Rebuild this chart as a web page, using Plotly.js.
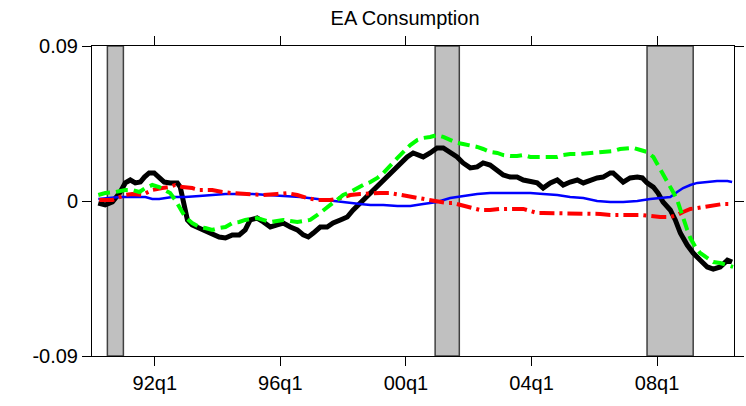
<!DOCTYPE html>
<html>
<head>
<meta charset="utf-8">
<script src="https://cdn.plot.ly/plotly-3.0.1.min.js"></script>
<style>html,body{margin:0;padding:0;background:#fff;}#chart{width:746px;height:406px;}</style>
</head>
<body>
<div id="chart"></div>
<script>
// x values are decimal years (q1 = year.00)
var blackX = [1990.20,1990.42,1990.65,1990.90,1991.06,1991.22,1991.38,1991.54,1991.67,1991.82,1991.98,1992.14,1992.30,1992.49,1992.72,1992.81,1992.88,1992.94,1993.04,1993.19,1993.42,1993.61,1993.83,1994.05,1994.25,1994.47,1994.69,1994.88,1995.04,1995.26,1995.46,1995.68,1995.90,1996.09,1996.32,1996.54,1996.73,1996.89,1997.05,1997.27,1997.49,1997.68,1997.91,1998.13,1998.32,1998.54,1998.77,1998.96,1999.18,1999.40,1999.60,1999.82,2000.04,2000.23,2000.36,2000.55,2000.77,2000.99,2001.19,2001.41,2001.63,2001.82,2002.05,2002.27,2002.46,2002.68,2002.91,2003.10,2003.32,2003.54,2003.74,2003.96,2004.18,2004.37,2004.60,2004.82,2005.01,2005.23,2005.46,2005.65,2005.87,2006.09,2006.28,2006.51,2006.60,2006.76,2006.92,2007.14,2007.37,2007.53,2007.68,2007.88,2008.03,2008.19,2008.42,2008.58,2008.74,2008.96,2009.15,2009.37,2009.60,2009.79,2010.01,2010.24,2010.39];
var blackY = [-0.0012,-0.0023,-0.0006,0.0052,0.0105,0.0122,0.0105,0.0110,0.0139,0.0163,0.0163,0.0139,0.0110,0.0105,0.0105,0.0081,0.0023,-0.0052,-0.0110,-0.0139,-0.0157,-0.0168,-0.0186,-0.0209,-0.0215,-0.0197,-0.0197,-0.0168,-0.0110,-0.0099,-0.0122,-0.0151,-0.0139,-0.0128,-0.0151,-0.0168,-0.0197,-0.0209,-0.0186,-0.0151,-0.0151,-0.0128,-0.0110,-0.0093,-0.0052,-0.0012,0.0023,0.0064,0.0105,0.0139,0.0180,0.0221,0.0256,0.0279,0.0267,0.0256,0.0279,0.0308,0.0308,0.0285,0.0256,0.0221,0.0192,0.0198,0.0221,0.0209,0.0180,0.0151,0.0139,0.0139,0.0122,0.0110,0.0105,0.0075,0.0105,0.0122,0.0093,0.0110,0.0122,0.0105,0.0122,0.0134,0.0139,0.0163,0.0163,0.0139,0.0110,0.0134,0.0139,0.0134,0.0105,0.0081,0.0046,-0.0006,-0.0052,-0.0110,-0.0186,-0.0256,-0.0302,-0.0343,-0.0383,-0.0395,-0.0383,-0.0343,-0.0354];

var greenX = [1990.20,1990.42,1990.74,1991.06,1991.28,1991.51,1991.70,1991.92,1992.14,1992.30,1992.49,1992.65,1992.81,1992.97,1993.19,1993.42,1993.61,1993.83,1994.05,1994.25,1994.47,1994.69,1994.88,1995.11,1995.26,1995.68,1996.09,1996.54,1996.95,1997.18,1997.37,1997.59,1997.81,1998.00,1998.23,1998.45,1998.64,1998.87,1999.09,1999.28,1999.50,1999.73,1999.92,2000.14,2000.36,2000.55,2000.77,2000.99,2001.19,2001.41,2001.63,2001.82,2002.05,2002.27,2002.46,2002.68,2002.91,2003.10,2003.32,2003.54,2003.74,2003.96,2004.18,2004.37,2004.60,2004.82,2005.01,2005.23,2005.55,2005.87,2006.19,2006.41,2006.60,2006.82,2007.05,2007.24,2007.47,2007.68,2007.88,2008.03,2008.19,2008.35,2008.51,2008.64,2008.74,2008.83,2008.96,2009.06,2009.22,2009.37,2009.60,2009.79,2010.01,2010.24,2010.42];
var greenY = [0.0035,0.0046,0.0052,0.0064,0.0064,0.0052,0.0075,0.0093,0.0081,0.0064,0.0046,0.0006,-0.0041,-0.0093,-0.0128,-0.0151,-0.0157,-0.0168,-0.0157,-0.0151,-0.0128,-0.0122,-0.0110,-0.0105,-0.0099,-0.0122,-0.0110,-0.0122,-0.0110,-0.0081,-0.0052,-0.0023,0.0006,0.0035,0.0052,0.0075,0.0093,0.0110,0.0134,0.0163,0.0209,0.0250,0.0285,0.0325,0.0354,0.0366,0.0372,0.0383,0.0372,0.0354,0.0337,0.0331,0.0325,0.0314,0.0302,0.0285,0.0279,0.0267,0.0261,0.0261,0.0267,0.0256,0.0256,0.0256,0.0256,0.0256,0.0267,0.0273,0.0273,0.0279,0.0285,0.0285,0.0290,0.0302,0.0308,0.0308,0.0296,0.0285,0.0256,0.0209,0.0163,0.0110,0.0052,0.0006,-0.0052,-0.0110,-0.0168,-0.0215,-0.0267,-0.0302,-0.0331,-0.0354,-0.0360,-0.0372,-0.0383];

var redX = [1990.23,1990.42,1990.65,1991.06,1991.28,1991.60,1991.92,1992.24,1992.46,1992.65,1992.88,1993.19,1993.42,1993.83,1994.15,1994.47,1994.79,1995.11,1995.46,1995.90,1996.22,1996.54,1996.86,1997.18,1997.59,1997.91,1998.23,1998.54,1998.87,1999.18,1999.50,1999.82,2000.14,2000.45,2000.77,2001.09,2001.31,2001.51,2001.73,2001.95,2002.14,2002.36,2002.68,2003.00,2003.32,2003.74,2003.96,2004.18,2004.37,2004.69,2005.01,2005.33,2005.55,2005.87,2006.19,2006.51,2006.82,2007.14,2007.47,2007.78,2008.10,2008.42,2008.64,2008.83,2009.06,2009.28,2009.47,2009.69,2009.91,2010.10,2010.26,2010.39];
var redY = [0.0006,0.0006,0.0006,0.0035,0.0041,0.0035,0.0064,0.0075,0.0081,0.0093,0.0081,0.0075,0.0064,0.0064,0.0052,0.0046,0.0041,0.0035,0.0035,0.0041,0.0046,0.0035,0.0017,0.0006,0.0006,0.0017,0.0035,0.0041,0.0046,0.0046,0.0046,0.0035,0.0023,0.0017,0.0006,-0.0006,-0.0012,-0.0012,-0.0023,-0.0035,-0.0046,-0.0052,-0.0052,-0.0046,-0.0046,-0.0046,-0.0058,-0.0070,-0.0070,-0.0070,-0.0070,-0.0070,-0.0075,-0.0075,-0.0075,-0.0081,-0.0081,-0.0081,-0.0081,-0.0087,-0.0093,-0.0093,-0.0081,-0.0064,-0.0046,-0.0041,-0.0035,-0.0029,-0.0023,-0.0017,-0.0017,-0.0017];

var blueX = [1990.20,1990.42,1990.87,1991.28,1991.70,1991.92,1992.14,1992.56,1992.97,1993.42,1993.83,1994.25,1994.69,1995.11,1995.58,1996.09,1996.63,1997.18,1997.68,1998.23,1998.54,1998.87,1999.28,1999.73,2000.14,2000.55,2000.99,2001.41,2001.82,2002.27,2002.68,2003.10,2003.54,2003.96,2004.37,2004.82,2005.23,2005.65,2006.09,2006.51,2006.92,2007.37,2007.78,2008.10,2008.42,2008.64,2008.83,2009.06,2009.28,2009.60,2009.91,2010.24,2010.39];
var blueY = [0.0012,0.0017,0.0023,0.0023,0.0023,0.0012,0.0012,0.0023,0.0023,0.0029,0.0035,0.0041,0.0041,0.0041,0.0035,0.0029,0.0023,0.0012,0.0000,-0.0012,-0.0017,-0.0023,-0.0023,-0.0029,-0.0029,-0.0017,-0.0006,0.0017,0.0029,0.0041,0.0046,0.0046,0.0046,0.0046,0.0041,0.0035,0.0023,0.0017,0.0000,-0.0006,-0.0006,0.0000,0.0012,0.0017,0.0023,0.0052,0.0075,0.0093,0.0105,0.0110,0.0116,0.0116,0.0110];

var recessionStart = [1990.49, 2000.93, 2007.68];
var recessionEnd   = [1991.00, 2001.70, 2009.15];

var xTickVals = [1992, 1996, 2000, 2004, 2008];
var xTickText = ['92q1', '96q1', '00q1', '04q1', '08q1'];
var yTickVals = [-0.09, 0, 0.09];
var yTickText = ['-0.09', '0', '0.09'];

var shapes = recessionStart.map(function (s, i) {
  return {type: 'rect', xref: 'x', yref: 'paper', x0: s, x1: recessionEnd[i], y0: 0, y1: 1,
          fillcolor: '#c0c0c0', line: {color: '#404040', width: 1.5}, layer: 'below'};
});

var traces = [
  {x: blackX, y: blackY, mode: 'lines', line: {color: '#000000', width: 5}},
  {x: blueX, y: blueY, mode: 'lines', line: {color: '#0000ff', width: 2.5}},
  {x: redX, y: redY, mode: 'lines', line: {color: '#ff0000', width: 4, dash: '15px,5px,3px,5px'}},
  {x: greenX, y: greenY, mode: 'lines', line: {color: '#00ff00', width: 4, dash: '12px,6px'}}
];

var axisFont = {family: 'Liberation Sans, Arial, sans-serif', size: 20, color: '#000'};
var layout = {
  width: 746, height: 406,
  margin: {l: 92, r: 12, t: 46, b: 50, pad: 0},
  paper_bgcolor: '#fff', plot_bgcolor: '#fff',
  showlegend: false,
  title: {text: 'EA Consumption', x: 0.543, xanchor: 'center', y: 0.955, yanchor: 'middle',
          font: {family: 'Liberation Sans, Arial, sans-serif', size: 20, color: '#000'}},
  xaxis: {range: [1990.0, 2010.45], tickvals: xTickVals, ticktext: xTickText,
          showgrid: false, zeroline: false, showline: true, linecolor: '#000', linewidth: 1,
          mirror: 'ticks', ticks: 'outside', ticklen: 9, tickcolor: '#000', tickwidth: 1,
          tickfont: axisFont},
  yaxis: {range: [-0.09, 0.09], tickvals: yTickVals, ticktext: yTickText,
          showgrid: false, zeroline: false, showline: true, linecolor: '#000', linewidth: 1,
          mirror: 'ticks', ticks: 'outside', ticklen: 9, tickcolor: '#000', tickwidth: 1,
          tickfont: axisFont},
  shapes: shapes
};

Plotly.newPlot('chart', traces, layout, {staticPlot: true, displayModeBar: false});
</script>
</body>
</html>
